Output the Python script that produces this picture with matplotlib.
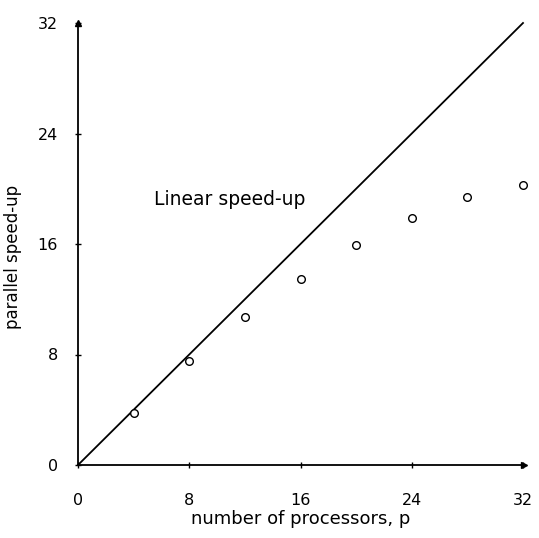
import matplotlib
matplotlib.use("Agg")
import matplotlib.pyplot as plt

processors = [4, 8, 12, 16, 20, 24, 28, 32]
speedup = [3.8, 7.5, 10.7, 13.5, 15.9, 17.9, 19.4, 20.3]
ideal_x = [0, 32]
ideal_y = [0, 32]
ticks = [0, 8, 16, 24, 32]
tick_labels = ["0", "8", "16", "24", "32"]

plt.rcParams['font.family'] = ['DejaVu Sans']

fig = plt.figure(figsize=(5.39, 5.38), dpi=100)
ax = fig.add_axes([78/539, 1-465/538, 445/539, 442/538])

ax.plot(ideal_x, ideal_y, color='black', lw=1.3, clip_on=False)
ax.plot(processors, speedup, linestyle='none', marker='o', markersize=5.5,
        markerfacecolor='white', markeredgecolor='black', markeredgewidth=1.0,
        clip_on=False, zorder=3)

ax.text(5.5, 19.2, "Linear speed-up", fontsize=13.5, va='center', ha='left')

ax.set_xlim(0, 32)
ax.set_ylim(0, 32)
for s in ['top', 'right']:
    ax.spines[s].set_visible(False)
for s in ['left', 'bottom']:
    ax.spines[s].set_linewidth(1.3)

# arrowheads
ax.plot(32.1, 0, marker='>', color='black', markersize=5, clip_on=False)
ax.plot(0, 32.0, marker='^', color='black', markersize=4, clip_on=False)

ax.set_xticks(ticks)
ax.set_xticklabels(tick_labels, fontsize=11.5)
ax.set_yticks(ticks)
ax.set_yticklabels(tick_labels, fontsize=11.5)
ax.tick_params(axis='x', direction='inout', length=5, width=1, pad=18)
ax.tick_params(axis='y', direction='inout', length=5, width=1, pad=12)

ax.set_xlabel("number of processors, p", fontsize=13, labelpad=1)
ax.set_ylabel("parallel speed-up", fontsize=12, labelpad=12)
ax.yaxis.set_label_coords(-0.125, 0.47)

fig.savefig("out.png", dpi=100)
